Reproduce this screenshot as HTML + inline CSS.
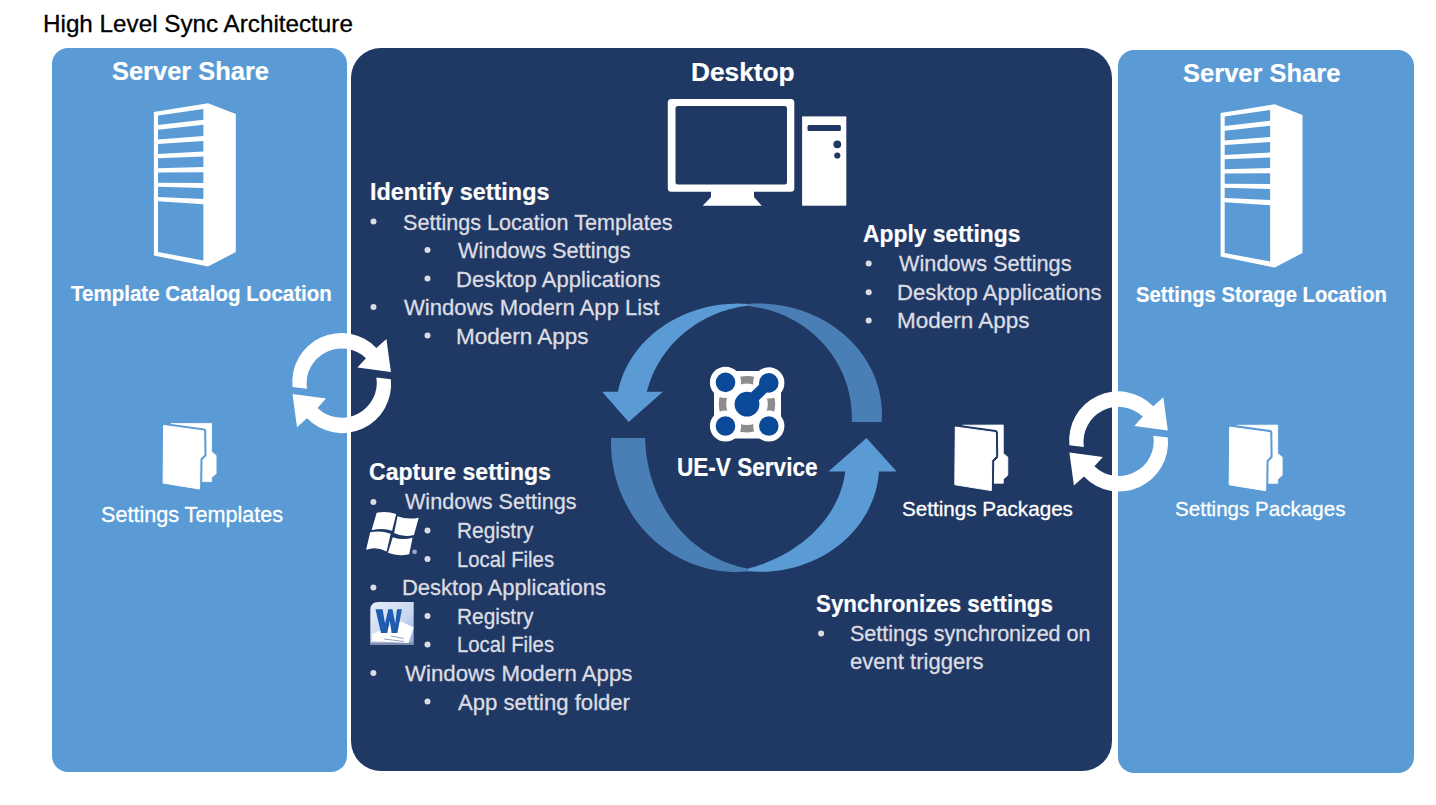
<!DOCTYPE html>
<html><head><meta charset="utf-8"><style>
html,body{margin:0;padding:0;background:#fff;width:1436px;height:805px;overflow:hidden}
.box{position:absolute}
.t{position:absolute;white-space:nowrap;font-family:"Liberation Sans",sans-serif;line-height:1;transform-origin:0 0;-webkit-text-stroke:0.3px currentColor}
.b{-webkit-text-stroke:0.2px currentColor}
.b{font-weight:bold}
svg{position:absolute;left:0;top:0}
</style></head><body>
<div class="box" style="left:52px;top:48.4px;width:295.3px;height:723.2px;background:#5B9BD5;border-radius:16px"></div>
<div class="box" style="left:351.2px;top:47.5px;width:761.2px;height:723.9px;background:#203864;border-radius:30px"></div>
<div class="box" style="left:1118.4px;top:49.7px;width:295.6px;height:723px;background:#5B9BD5;border-radius:16px"></div>
<svg width="1436" height="805" viewBox="0 0 1436 805">
<g transform="translate(0,0)"><polygon fill="#fff" points="153.9,111.9 208.0,103.2 235.8,114.0 235.8,252.0 208.0,266.6 153.9,255.5"/><polygon fill="#5B9BD5" points="158.0,115.4 203.4,108.9 203.4,119.7 158.0,125.1"/><polygon fill="#5B9BD5" points="158.0,129.7 203.4,124.7 203.4,135.9 158.0,139.6"/><polygon fill="#5B9BD5" points="158.0,144.0 203.4,140.9 203.4,151.4 158.0,153.9"/><polygon fill="#5B9BD5" points="158.0,158.2 203.4,156.4 203.4,167.0 158.0,168.2"/><polygon fill="#5B9BD5" points="158.0,172.5 203.4,172.3 203.4,183.1 158.0,182.7"/><polygon fill="#5B9BD5" points="158.0,186.8 203.4,188.0 203.4,198.9 158.0,197.1"/><polygon fill="#5B9BD5" points="158.0,201.3 203.4,204.3 203.4,260.6 158.0,252.0"/></g>
<g transform="translate(1066.7,1)"><polygon fill="#fff" points="153.9,111.9 208.0,103.2 235.8,114.0 235.8,252.0 208.0,266.6 153.9,255.5"/><polygon fill="#5B9BD5" points="158.0,115.4 203.4,108.9 203.4,119.7 158.0,125.1"/><polygon fill="#5B9BD5" points="158.0,129.7 203.4,124.7 203.4,135.9 158.0,139.6"/><polygon fill="#5B9BD5" points="158.0,144.0 203.4,140.9 203.4,151.4 158.0,153.9"/><polygon fill="#5B9BD5" points="158.0,158.2 203.4,156.4 203.4,167.0 158.0,168.2"/><polygon fill="#5B9BD5" points="158.0,172.5 203.4,172.3 203.4,183.1 158.0,182.7"/><polygon fill="#5B9BD5" points="158.0,186.8 203.4,188.0 203.4,198.9 158.0,197.1"/><polygon fill="#5B9BD5" points="158.0,201.3 203.4,204.3 203.4,260.6 158.0,252.0"/></g>
<rect x="667.8" y="98.9" width="126.5" height="92.8" rx="3.5" fill="#fff"/>
<rect x="675.5" y="106" width="111.5" height="78.4" rx="2.5" fill="#203864"/>
<polygon fill="#fff" points="711.0,191.0 754.0,191.0 754.0,197.0 761.7,205.7 702.7,205.7 711.0,197.0"/>
<rect x="802.1" y="116.4" width="44.2" height="89.3" fill="#fff"/>
<rect x="807.5" y="124.9" width="33.4" height="6.2" rx="1.5" fill="#203864"/>
<circle cx="837.3" cy="144.3" r="3.9" fill="#203864"/><circle cx="837.3" cy="155.5" r="3.1" fill="#203864"/>
<g transform="translate(0,0)"><polygon fill="#fff" stroke="#fff" stroke-width="0.8" stroke-linejoin="round" points="171.0,423.6 211.6,423.4 211.6,451.8 216.1,455.5 216.1,473.6 211.6,477.6 211.6,481.6 199.7,481.6 199.7,440.0 171.0,440.0"/><polygon fill="#5B9BD5" stroke="#5B9BD5" stroke-width="5" stroke-linejoin="round" points="163.6,425.4 203.7,430.9 204.0,454.8 200.0,458.7 199.6,489.0 163.1,483.1"/><polygon fill="#fff" stroke="#fff" stroke-width="1" stroke-linejoin="round" points="163.6,425.4 203.7,430.9 204.0,454.8 200.0,458.7 199.6,489.0 163.1,483.1"/></g>
<g transform="translate(791.7,1.6)"><polygon fill="#fff" stroke="#fff" stroke-width="0.8" stroke-linejoin="round" points="171.0,423.6 211.6,423.4 211.6,451.8 216.1,455.5 216.1,473.6 211.6,477.6 211.6,481.6 199.7,481.6 199.7,440.0 171.0,440.0"/><polygon fill="#203864" stroke="#203864" stroke-width="5" stroke-linejoin="round" points="163.6,425.4 203.7,430.9 204.0,454.8 200.0,458.7 199.6,489.0 163.1,483.1"/><polygon fill="#fff" stroke="#fff" stroke-width="1" stroke-linejoin="round" points="163.6,425.4 203.7,430.9 204.0,454.8 200.0,458.7 199.6,489.0 163.1,483.1"/></g>
<g transform="translate(1066.1,1.7)"><polygon fill="#fff" stroke="#fff" stroke-width="0.8" stroke-linejoin="round" points="171.0,423.6 211.6,423.4 211.6,451.8 216.1,455.5 216.1,473.6 211.6,477.6 211.6,481.6 199.7,481.6 199.7,440.0 171.0,440.0"/><polygon fill="#5B9BD5" stroke="#5B9BD5" stroke-width="5" stroke-linejoin="round" points="163.6,425.4 203.7,430.9 204.0,454.8 200.0,458.7 199.6,489.0 163.1,483.1"/><polygon fill="#fff" stroke="#fff" stroke-width="1" stroke-linejoin="round" points="163.6,425.4 203.7,430.9 204.0,454.8 200.0,458.7 199.6,489.0 163.1,483.1"/></g>
<g transform="translate(341.7,383.1)" fill="#fff"><path d="M-49.2,3.8 A49,49 0 0 1 34.7,-35.2 L44.7,-44.2 L49.2,-11 L15.7,-15.5 L24.2,-24.8 A35,35 0 0 0 -34.7,5.7 Z"/><path d="M49.2,-3.8 A49,49 0 0 1 -34.7,35.2 L-44.7,44.2 L-49.2,11 L-15.7,15.5 L-24.2,24.8 A35,35 0 0 0 34.7,-5.7 Z"/></g>
<g transform="translate(1118.6,441.4)" fill="#fff"><path d="M-49.2,3.8 A49,49 0 0 1 34.7,-35.2 L44.7,-44.2 L49.2,-11 L15.7,-15.5 L24.2,-24.8 A35,35 0 0 0 -34.7,5.7 Z"/><path d="M49.2,-3.8 A49,49 0 0 1 -34.7,35.2 L-44.7,44.2 L-49.2,11 L-15.7,15.5 L-24.2,24.8 A35,35 0 0 0 34.7,-5.7 Z"/></g>
<path fill="#4A7FB6" d="M747.60,303.92 L752.92,303.61 L758.26,303.51 L763.59,303.61 L768.91,303.92 L774.22,304.44 L779.49,305.16 L784.73,306.08 L789.91,307.20 L795.04,308.53 L800.10,310.05 L805.08,311.76 L809.97,313.66 L814.77,315.76 L819.46,318.03 L824.04,320.49 L828.49,323.11 L832.82,325.91 L837.00,328.88 L841.04,332.00 L844.93,335.27 L848.65,338.70 L852.21,342.26 L855.59,345.96 L858.79,349.78 L861.80,353.73 L864.62,357.78 L867.24,361.95 L869.66,366.21 L871.87,370.55 L873.87,374.98 L875.66,379.49 L877.22,384.06 L878.57,388.68 L879.69,393.35 L880.59,398.07 L881.25,402.81 L881.69,407.57 L881.90,412.35 L881.88,417.13 L881.63,421.90 L851.73,421.90 L851.82,417.66 L851.74,413.42 L851.50,409.19 L851.10,404.97 L850.53,400.76 L849.80,396.58 L848.90,392.43 L847.84,388.32 L846.63,384.25 L845.26,380.22 L843.73,376.25 L842.04,372.34 L840.21,368.49 L838.22,364.72 L836.10,361.02 L833.82,357.40 L831.41,353.86 L828.87,350.42 L826.19,347.08 L823.38,343.83 L820.45,340.70 L817.40,337.67 L814.23,334.76 L810.95,331.96 L807.56,329.29 L804.07,326.75 L800.49,324.33 L796.81,322.05 L793.05,319.91 L789.21,317.91 L785.29,316.05 L781.30,314.33 L777.25,312.77 L773.14,311.35 L768.98,310.09 L764.77,308.98 L760.52,308.03 L756.24,307.24 L751.93,306.60 L747.60,306.12 Z"/>
<path fill="#4A7FB6" d="M611.12,437.90 L611.02,443.39 L611.15,448.87 L611.51,454.35 L612.09,459.80 L612.90,465.22 L613.93,470.61 L615.18,475.94 L616.65,481.21 L618.34,486.42 L620.23,491.54 L622.34,496.58 L624.66,501.52 L627.18,506.36 L629.89,511.08 L632.80,515.67 L635.89,520.14 L639.16,524.46 L642.61,528.64 L646.23,532.67 L650.02,536.53 L653.95,540.22 L658.04,543.73 L662.27,547.07 L666.63,550.21 L671.12,553.16 L675.72,555.92 L680.44,558.46 L685.25,560.80 L690.16,562.93 L695.15,564.83 L700.22,566.52 L705.35,567.99 L710.53,569.22 L715.77,570.23 L721.04,571.01 L726.33,571.56 L731.65,571.88 L736.97,571.96 L742.29,571.81 L747.60,571.42 L747.60,568.57 L743.43,567.74 L739.28,566.76 L735.17,565.61 L731.10,564.30 L727.07,562.84 L723.09,561.23 L719.16,559.46 L715.30,557.54 L711.49,555.48 L707.75,553.27 L704.08,550.91 L700.49,548.42 L696.98,545.79 L693.55,543.02 L690.21,540.13 L686.97,537.10 L683.82,533.96 L680.77,530.69 L677.83,527.31 L674.99,523.82 L672.27,520.22 L669.66,516.52 L667.17,512.72 L664.79,508.83 L662.55,504.84 L660.42,500.78 L658.43,496.63 L656.57,492.41 L654.84,488.12 L653.25,483.77 L651.80,479.36 L650.48,474.89 L649.31,470.38 L648.28,465.82 L647.39,461.23 L646.65,456.60 L646.05,451.95 L645.60,447.28 L645.29,442.59 L645.13,437.90 Z"/>
<path fill="#5B9BD5" d="M747.60,303.88 L742.94,303.65 L738.28,303.58 L733.62,303.66 L728.96,303.89 L724.32,304.28 L719.70,304.83 L715.10,305.52 L710.54,306.37 L706.02,307.36 L701.55,308.51 L697.13,309.80 L692.77,311.24 L688.48,312.82 L684.25,314.55 L680.11,316.41 L676.06,318.41 L672.09,320.54 L668.22,322.80 L664.45,325.19 L660.79,327.70 L657.25,330.32 L653.82,333.07 L650.51,335.93 L647.33,338.89 L644.29,341.96 L641.38,345.12 L638.61,348.38 L635.99,351.73 L633.52,355.17 L631.20,358.68 L629.04,362.26 L627.03,365.92 L625.19,369.64 L623.51,373.42 L622.00,377.25 L620.66,381.13 L619.49,385.05 L618.49,389.00 L617.67,392.99 L617.03,397.00 L645.69,397.00 L646.43,393.53 L647.28,390.08 L648.25,386.66 L649.33,383.27 L650.52,379.91 L651.83,376.59 L653.25,373.31 L654.77,370.07 L656.40,366.88 L658.14,363.74 L659.98,360.65 L661.92,357.62 L663.97,354.65 L666.11,351.73 L668.35,348.89 L670.68,346.11 L673.10,343.40 L675.61,340.77 L678.21,338.21 L680.89,335.73 L683.66,333.33 L686.50,331.01 L689.42,328.78 L692.41,326.63 L695.47,324.57 L698.60,322.61 L701.79,320.74 L705.04,318.96 L708.35,317.29 L711.72,315.71 L715.13,314.23 L718.60,312.85 L722.10,311.58 L725.65,310.41 L729.24,309.34 L732.86,308.38 L736.51,307.53 L740.18,306.79 L743.88,306.16 L747.60,305.64 Z"/><polygon fill="#5B9BD5" points="602.1,391.8 662.9,391.8 628.7,421.9"/>
<path fill="#5B9BD5" d="M747.60,571.24 L752.55,571.61 L757.52,571.80 L762.49,571.81 L767.45,571.63 L772.41,571.26 L777.34,570.71 L782.24,569.98 L787.10,569.07 L791.92,567.97 L796.68,566.69 L801.38,565.24 L806.00,563.61 L810.55,561.81 L815.00,559.85 L819.36,557.72 L823.62,555.42 L827.77,552.98 L831.80,550.37 L835.70,547.62 L839.48,544.73 L843.11,541.70 L846.60,538.53 L849.94,535.24 L853.12,531.82 L856.14,528.29 L858.99,524.65 L861.67,520.91 L864.17,517.07 L866.49,513.14 L868.63,509.12 L870.57,505.03 L872.33,500.87 L873.88,496.65 L875.24,492.38 L876.40,488.05 L877.35,483.69 L878.11,479.30 L878.65,474.88 L878.99,470.44 L879.12,466.00 L845.75,466.00 L845.48,469.41 L845.07,472.82 L844.54,476.21 L843.88,479.59 L843.10,482.96 L842.18,486.30 L841.14,489.62 L839.98,492.91 L838.69,496.18 L837.27,499.41 L835.74,502.61 L834.09,505.77 L832.31,508.89 L830.42,511.96 L828.42,514.99 L826.30,517.98 L824.06,520.91 L821.72,523.78 L819.27,526.60 L816.72,529.36 L814.06,532.06 L811.30,534.69 L808.45,537.26 L805.49,539.76 L802.45,542.18 L799.31,544.54 L796.09,546.82 L792.78,549.02 L789.39,551.14 L785.92,553.18 L782.37,555.14 L778.75,557.02 L775.07,558.80 L771.31,560.50 L767.50,562.11 L763.62,563.63 L759.69,565.06 L755.71,566.39 L751.68,567.62 L747.60,568.77 Z"/><polygon fill="#5B9BD5" points="828.5,471.4 896.6,471.4 866.5,437.9"/>
<g><rect x="718" y="371" width="58" height="67.5" rx="6" fill="#fff"/><rect x="714" y="378" width="67" height="53" rx="6" fill="#fff"/><circle cx="747" cy="404.2" r="24.5" fill="none" stroke="#8C8C8C" stroke-width="7.4"/><circle cx="725.5" cy="382.4" r="15.6" fill="#fff"/><circle cx="768.8" cy="382.9" r="15.6" fill="#fff"/><circle cx="725.5" cy="426" r="15.6" fill="#fff"/><circle cx="768.8" cy="426" r="15.6" fill="#fff"/><circle cx="725.5" cy="382.4" r="9.8" fill="#0B4A98"/><circle cx="768.8" cy="382.9" r="9.8" fill="#0B4A98"/><circle cx="725.5" cy="426" r="9.8" fill="#0B4A98"/><circle cx="768.8" cy="426" r="9.8" fill="#0B4A98"/><line x1="747" y1="404" x2="768.8" y2="382.9" stroke="#0B4A98" stroke-width="11" stroke-linecap="round"/><circle cx="747" cy="404.2" r="12.4" fill="#0B4A98"/></g>
<g><path fill="#fff" d="M376.7,512.86 Q385.92,510.47 396.18,513.89 L392.08,530.63 Q382.51,527.56 371.57,530.29 Z"/><path fill="#fff" d="M397.54,516.28 Q407.11,520.04 418.73,517.65 L413.95,535.08 Q403.7,537.81 394.13,533.02 Z"/><path fill="#fff" d="M370.2,532.34 Q380.46,530.29 390.71,533.71 L386.61,551.48 Q375.67,546.01 366.1,549.77 Z"/><path fill="#fff" d="M392.76,537.13 Q402.33,540.54 412.58,537.81 L409.16,554.21 Q398.23,556.95 387.97,552.85 Z"/><circle cx="414.6" cy="551.8" r="2.4" fill="#9AA6C4"/></g>
<defs><linearGradient id="wg" x1="0" y1="0" x2="1" y2="1"><stop offset="0" stop-color="#E8EEF8"/><stop offset="0.6" stop-color="#C9D6EE"/><stop offset="1" stop-color="#8FA9DA"/></linearGradient></defs><path d="M378.5,601.9 L413.7,601.9 L413.7,644.8 L370.3,644.8 L370.3,610 Q370.3,601.9 378.5,601.9 Z" fill="url(#wg)"/><rect x="370.3" y="642.6" width="43.4" height="2.2" fill="#7C8DB0"/><polygon fill="#fff" points="400.9,621.4 413.7,627.3 408.5,643 372.2,641 372.2,633.9"/><path fill="#1F5BAF" d="M375.5,609.2 L382.6,609.2 L385,623.5 L388.3,609.2 L392.4,609.2 L395.3,623.5 L397,609.2 L401.9,609.2 L397.4,632.9 L391.6,632.9 L389.8,620.5 L387.3,632.9 L381,632.9 Z"/><line x1="391" y1="636" x2="404" y2="638.5" stroke="#8898B8" stroke-width="0.9"/><line x1="384" y1="639" x2="404" y2="641.5" stroke="#8898B8" stroke-width="0.9"/>
<g fill="#DCDDE3"><circle cx="373.5" cy="221.5" r="3"/><circle cx="427.5" cy="250" r="3"/><circle cx="427.5" cy="278.5" r="3"/><circle cx="373.5" cy="307" r="3"/><circle cx="427.5" cy="335.5" r="3"/><circle cx="868.7" cy="263.5" r="3"/><circle cx="868.7" cy="292.2" r="3"/><circle cx="868.7" cy="320.6" r="3"/><circle cx="373.4" cy="502" r="3"/><circle cx="427.5" cy="530.5" r="3"/><circle cx="427.5" cy="559" r="3"/><circle cx="373.4" cy="587.5" r="3"/><circle cx="427.5" cy="616" r="3"/><circle cx="427.5" cy="644.5" r="3"/><circle cx="373.4" cy="673" r="3"/><circle cx="427.5" cy="701.5" r="3"/><circle cx="821.1" cy="633.5" r="3"/></g>
</svg>
<div class="t" style="left:42.94px;top:12.28px;font-size:24.71px;color:#000;transform:scaleX(0.9812)">High Level Sync Architecture</div><div class="t b" style="left:111.99px;top:59.09px;font-size:25.87px;color:#FFFFFF;transform:scaleX(0.9835)">Server Share</div><div class="t b" style="left:71.00px;top:283.12px;font-size:22.53px;color:#FFFFFF;transform:scaleX(0.9119)">Template Catalog Location</div><div class="t" style="left:101.49px;top:503.73px;font-size:21.22px;color:#FFFFFF;transform:scaleX(1.0173)">Settings Templates</div><div class="t b" style="left:690.94px;top:60.02px;font-size:25.73px;color:#FFFFFF;transform:scaleX(1.0209)">Desktop</div><div class="t b" style="left:369.97px;top:179.98px;font-size:24.71px;color:#FFFFFF;transform:scaleX(0.9476)">Identify settings</div><div class="t" style="left:402.50px;top:211.53px;font-size:21.22px;color:#DCDDE3;transform:scaleX(1.0169)">Settings Location Templates</div><div class="t" style="left:458.00px;top:240.03px;font-size:21.22px;color:#DCDDE3;transform:scaleX(1.0228)">Windows Settings</div><div class="t" style="left:455.98px;top:268.53px;font-size:21.22px;color:#DCDDE3;transform:scaleX(1.0383)">Desktop Applications</div><div class="t" style="left:404.00px;top:297.03px;font-size:21.22px;color:#DCDDE3;transform:scaleX(1.0414)">Windows Modern App List</div><div class="t" style="left:455.98px;top:325.53px;font-size:21.22px;color:#DCDDE3;transform:scaleX(1.0599)">Modern Apps</div><div class="t b" style="left:863.49px;top:221.58px;font-size:24.71px;color:#FFFFFF;transform:scaleX(0.9252)">Apply settings</div><div class="t" style="left:899.00px;top:253.43px;font-size:21.22px;color:#DCDDE3;transform:scaleX(1.0228)">Windows Settings</div><div class="t" style="left:896.98px;top:282.03px;font-size:21.22px;color:#DCDDE3;transform:scaleX(1.0382)">Desktop Applications</div><div class="t" style="left:896.97px;top:310.33px;font-size:21.22px;color:#DCDDE3;transform:scaleX(1.0599)">Modern Apps</div><div class="t b" style="left:677.49px;top:454.66px;font-size:25.44px;color:#FFFFFF;transform:scaleX(0.8873)">UE-V Service</div><div class="t" style="left:902.49px;top:499.18px;font-size:20.93px;color:#FFFFFF;transform:scaleX(0.9864)">Settings Packages</div><div class="t b" style="left:369.49px;top:460.49px;font-size:23.98px;color:#FFFFFF;transform:scaleX(0.9620)">Capture settings</div><div class="t" style="left:404.50px;top:491.43px;font-size:21.22px;color:#DCDDE3;transform:scaleX(1.0168)">Windows Settings</div><div class="t" style="left:456.98px;top:520.23px;font-size:21.22px;color:#DCDDE3;transform:scaleX(0.9833)">Registry</div><div class="t" style="left:456.97px;top:548.63px;font-size:21.22px;color:#DCDDE3;transform:scaleX(0.9568)">Local Files</div><div class="t" style="left:402.47px;top:577.33px;font-size:21.22px;color:#DCDDE3;transform:scaleX(1.0357)">Desktop Applications</div><div class="t" style="left:456.98px;top:605.93px;font-size:21.22px;color:#DCDDE3;transform:scaleX(0.9833)">Registry</div><div class="t" style="left:456.97px;top:634.23px;font-size:21.22px;color:#DCDDE3;transform:scaleX(0.9568)">Local Files</div><div class="t" style="left:404.50px;top:663.03px;font-size:21.22px;color:#DCDDE3;transform:scaleX(1.0483)">Windows Modern Apps</div><div class="t" style="left:458.00px;top:691.83px;font-size:21.22px;color:#DCDDE3;transform:scaleX(1.0414)">App setting folder</div><div class="t b" style="left:816.49px;top:591.95px;font-size:24.27px;color:#FFFFFF;transform:scaleX(0.9199)">Synchronizes settings</div><div class="t" style="left:849.99px;top:622.53px;font-size:21.22px;color:#DCDDE3;transform:scaleX(1.0144)">Settings synchronized on</div><div class="t" style="left:850.00px;top:650.83px;font-size:21.22px;color:#DCDDE3;transform:scaleX(1.0384)">event triggers</div><div class="t b" style="left:1183.49px;top:61.29px;font-size:25.87px;color:#FFFFFF;transform:scaleX(0.9866)">Server Share</div><div class="t b" style="left:1136.49px;top:284.12px;font-size:22.53px;color:#FFFFFF;transform:scaleX(0.8993)">Settings Storage Location</div><div class="t" style="left:1174.99px;top:498.78px;font-size:20.93px;color:#FFFFFF;transform:scaleX(0.9836)">Settings Packages</div>
</body></html>
